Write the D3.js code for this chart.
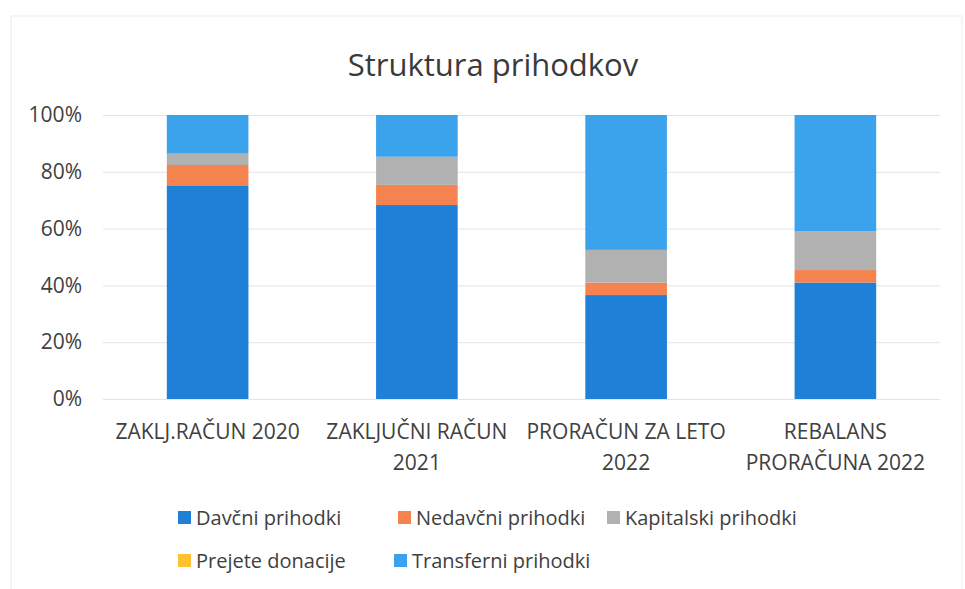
<!DOCTYPE html>
<html>
<head>
<meta charset="utf-8">
<script src="https://cdn.jsdelivr.net/npm/d3@7"></script>
<style>
  body { margin: 0; background: #fff; }
  text { font-family: "Open Sans", "Liberation Sans", sans-serif; fill: #404040; }
</style>
</head>
<body>
<div id="chart"></div>
<script>
// data (shares in %)
var categories = [["ZAKLJ.RAČUN 2020"], ["ZAKLJUČNI RAČUN", "2021"], ["PRORAČUN ZA LETO", "2022"], ["REBALANS", "PRORAČUNA 2022"]];
var seriesNames = ["Davčni prihodki", "Nedavčni prihodki", "Kapitalski prihodki", "Prejete donacije", "Transferni prihodki"];
var davcni = [75.0, 68.3, 36.6, 41.0];
var nedavcni = [7.4, 7.1, 4.4, 4.4];
var kapitalski = [4.0, 9.9, 11.5, 13.6];
var donacije = [0, 0, 0, 0];
var transferni = [13.6, 14.7, 47.5, 41.0];
var yTicks = [0, 0.2, 0.4, 0.6, 0.8, 1];
var colors = ["#1f80d8", "#f5834f", "#b1b1b1", "#ffc22e", "#3ba2ec"];

var width = 965, height = 589;
var margin = { top: 115, right: 25, bottom: 190, left: 103 };
var chartWidth = width - margin.left - margin.right;
var chartHeight = height - margin.top - margin.bottom;

var svg = d3.select("#chart").append("svg")
    .attr("width", width)
    .attr("height", height);

// faint frame of the scanned chart
svg.append("rect")
    .attr("x", 11).attr("y", 16)
    .attr("width", 951).attr("height", 600)
    .attr("fill", "none")
    .attr("stroke", "#ececec");

svg.append("text")
    .attr("x", 493).attr("y", 76)
    .attr("text-anchor", "middle")
    .style("font-size", "31px")
    .style("fill", "#3a3a3a")
    .text("Struktura prihodkov");

var chartGroup = svg.append("g")
    .attr("transform", `translate(${margin.left}, ${margin.top})`);

// build table for the stack
var table = categories.map(function(c, i) {
    var total = davcni[i] + nedavcni[i] + kapitalski[i] + donacije[i] + transferni[i];
    return {
        idx: i,
        "Davčni prihodki": davcni[i] / total,
        "Nedavčni prihodki": nedavcni[i] / total,
        "Kapitalski prihodki": kapitalski[i] / total,
        "Prejete donacije": donacije[i] / total,
        "Transferni prihodki": transferni[i] / total
    };
});

var xScale = d3.scaleBand()
    .domain(d3.range(categories.length))
    .range([0, chartWidth])
    .paddingInner(0.61)
    .paddingOuter(0.305);

var yScale = d3.scaleLinear()
    .domain([0, 1])
    .range([chartHeight, 0]);

// gridlines
chartGroup.append("g")
    .call(d3.axisLeft(yScale).tickValues(yTicks).tickSize(-chartWidth).tickFormat(""))
    .call(g => g.select(".domain").remove())
    .selectAll("line").attr("stroke", "#e4e4e8");

// y labels
chartGroup.append("g")
    .attr("transform", "translate(-18,0)")
    .call(d3.axisLeft(yScale).tickValues(yTicks).tickSize(0).tickFormat(d3.format(".0%")))
    .call(g => g.select(".domain").remove())
    .selectAll("text")
    .style("font-size", "21px")
    .style("fill", "#404040");

var stack = d3.stack().keys(seriesNames);
var layers = stack(table);

chartGroup.selectAll(".layer")
    .data(layers)
    .enter()
    .append("g")
    .attr("fill", (d, i) => colors[i])
    .selectAll("rect")
    .data(d => d)
    .enter()
    .append("rect")
    .attr("x", d => xScale(d.data.idx))
    .attr("width", xScale.bandwidth())
    .attr("y", d => yScale(d[1]))
    .attr("height", d => yScale(d[0]) - yScale(d[1]));

// category labels
var xAxis = chartGroup.append("g")
    .attr("transform", `translate(0, ${chartHeight})`);
categories.forEach(function(lines, i) {
    var t = xAxis.append("text")
        .attr("x", xScale(i) + xScale.bandwidth() / 2)
        .attr("y", 40)
        .attr("text-anchor", "middle")
        .style("font-size", "21px");
    lines.forEach(function(l, j) {
        t.append("tspan")
            .attr("x", xScale(i) + xScale.bandwidth() / 2)
            .attr("dy", j === 0 ? 0 : 31)
            .text(l);
    });
});

// legend
var legendPos = [[178, 518], [398, 518], [607, 518], [178, 561], [394, 561]];
var legend = svg.selectAll(".legend")
    .data(seriesNames)
    .enter()
    .append("g")
    .attr("transform", (d, i) => `translate(${legendPos[i][0]}, ${legendPos[i][1]})`);

legend.append("rect")
    .attr("x", 0).attr("y", -7)
    .attr("width", 13).attr("height", 13)
    .attr("fill", (d, i) => colors[i]);

legend.append("text")
    .attr("x", 18).attr("y", 7)
    .style("font-size", "20px")
    .text(d => d);
</script>
</body>
</html>
